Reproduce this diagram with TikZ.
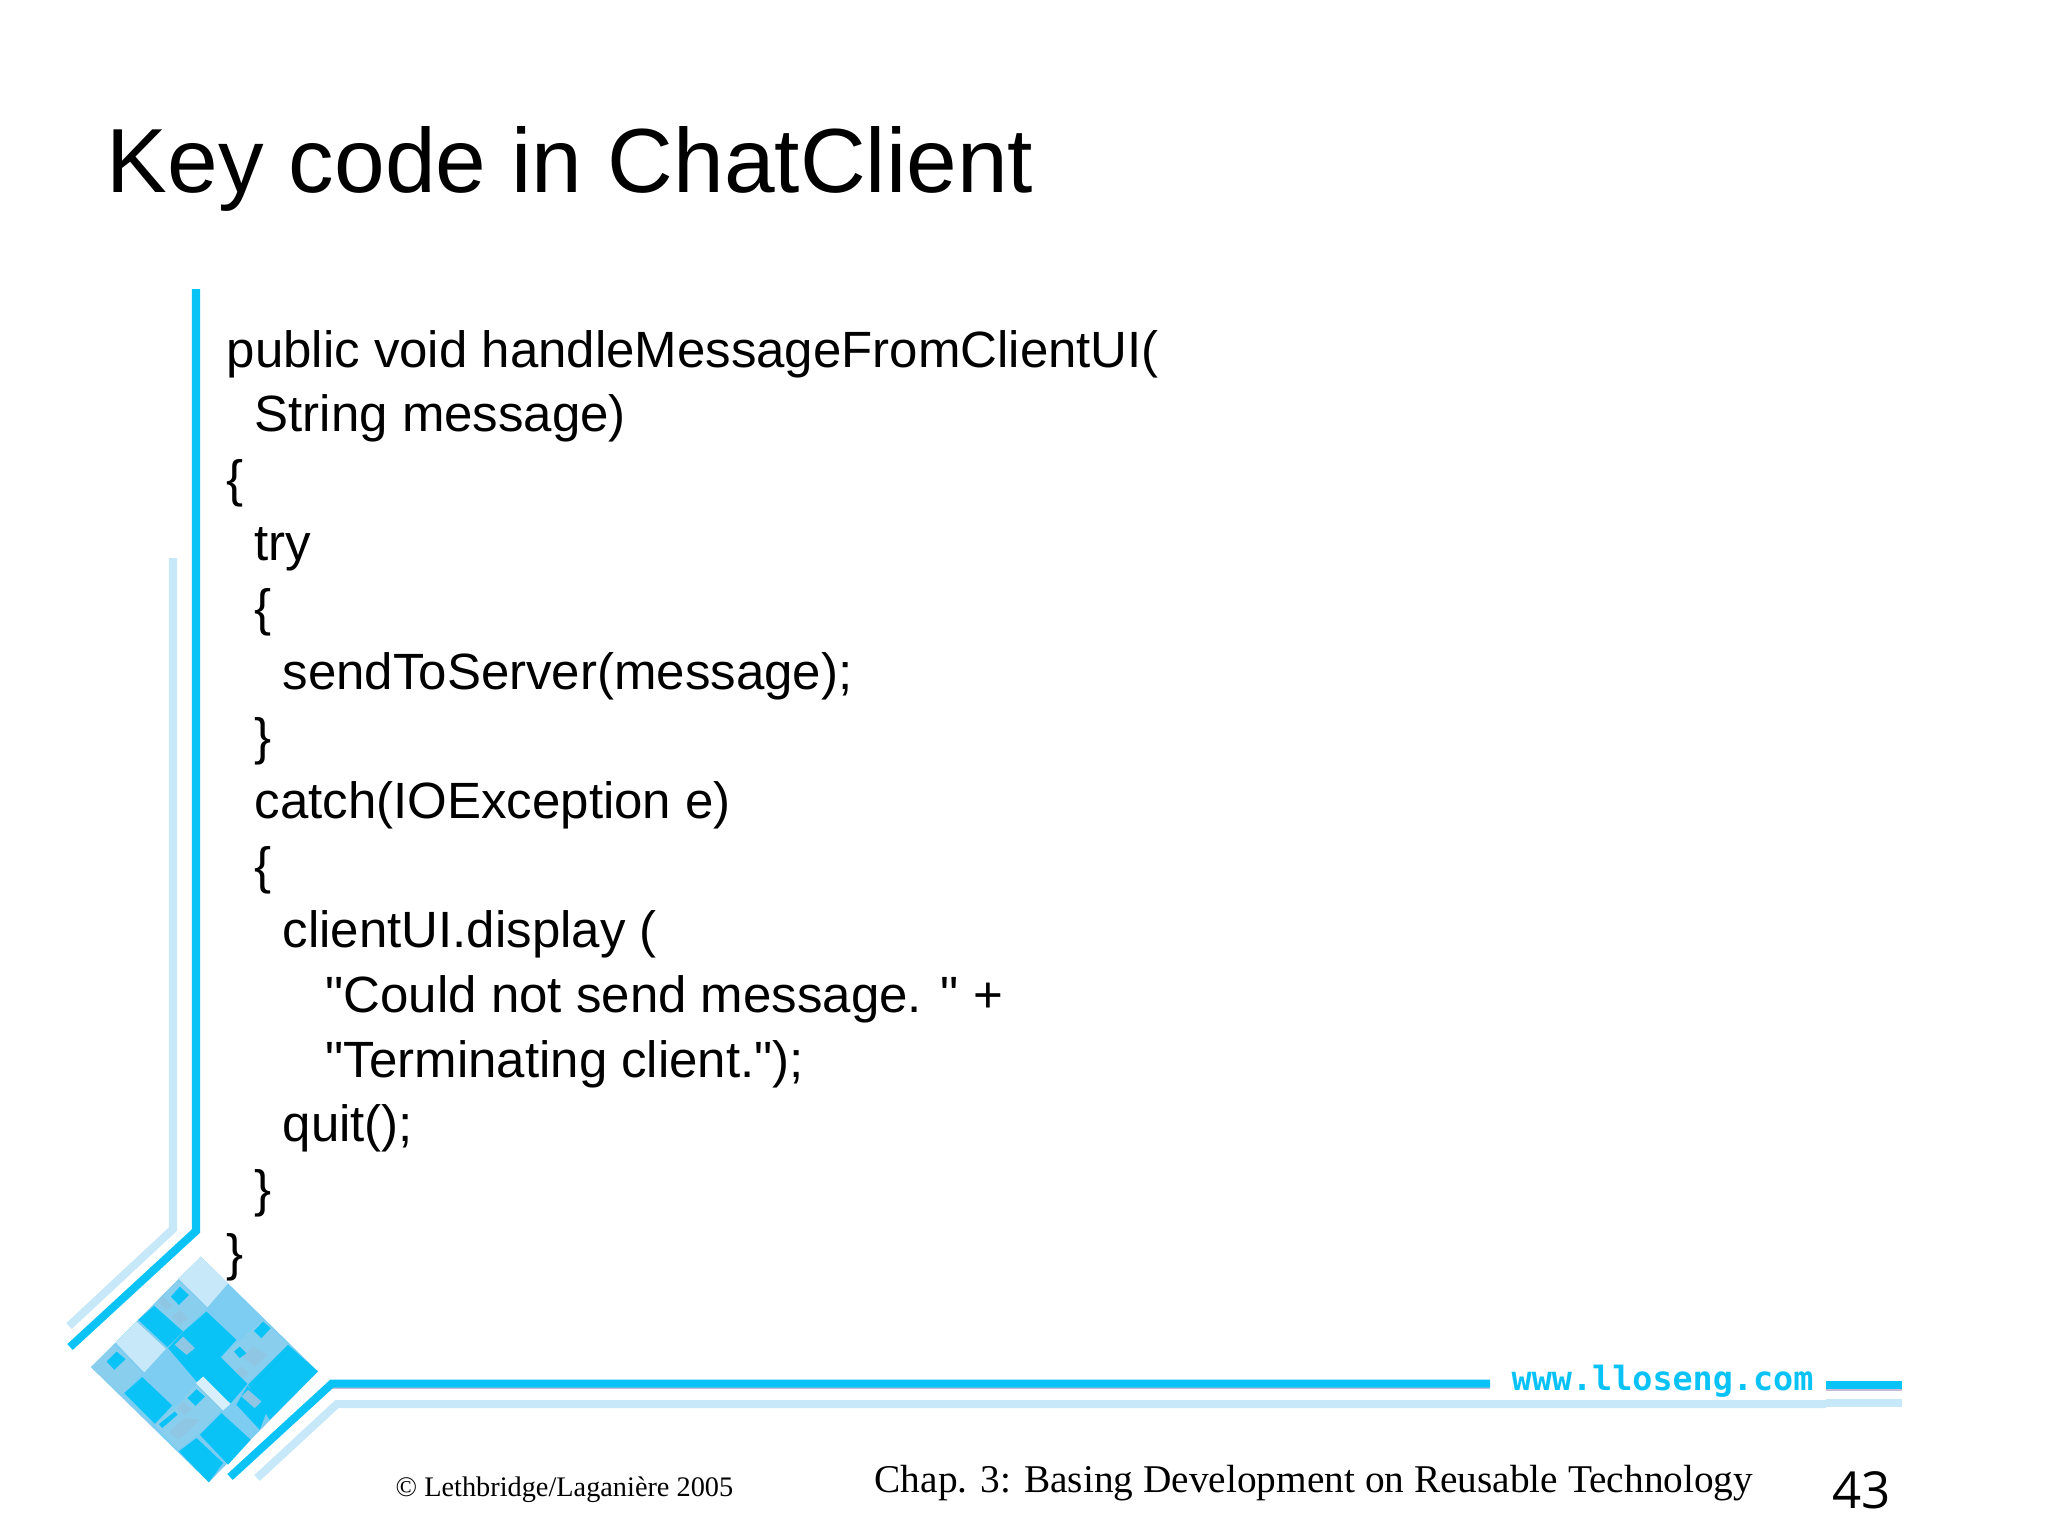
\documentclass[tikz,border=0pt]{standalone}
\usepackage{fontspec}
\setmainfont{Liberation Sans}
\newfontfamily\codeface{Liberation Sans}
\newfontfamily\serifface{Liberation Serif}
\newfontfamily\pagenumface{Open Sans}
\newfontfamily\webface{DejaVu Sans Mono}
\definecolor{ruleblue}{HTML}{0AC3F6}
\definecolor{rulepale}{HTML}{C6E8F9}
\definecolor{rulemauve}{HTML}{C9B9D6}
\definecolor{tilemid}{HTML}{7CCDF1}
\definecolor{tilegray}{HTML}{8ACEEE}
\definecolor{tilespot}{HTML}{8FC6E4}
\definecolor{tilewhite}{HTML}{D6EFFB}
\tikzset{
	bluerule/.style={draw=ruleblue,line width=0.08cm,miter limit=4},
	palerule/.style={draw=rulepale,line width=0.08cm},
	codeline/.style={anchor=base west,inner sep=0pt,font=\codeface\fontsize{14.5}{14.5}\selectfont},
	footline/.style={anchor=base west,inner sep=0pt,text=black}
}
\begin{document}
\begin{tikzpicture}[x=0.01cm,y=-0.01cm]
		\useasboundingbox[fill=white] (0,0) rectangle (2048,1536);

		% Frame rules
		\draw[palerule] (173,558) -- (173,1229) -- (69,1326);
		\draw[palerule] (257,1478) -- (337,1404) -- (1826,1404);
		\draw[palerule] (1826,1403) -- (1902,1403);
		\draw[draw=rulemauve,line width=0.02cm] (331,1388) -- (1490,1388);
		\draw[draw=rulemauve,line width=0.02cm] (1826,1390) -- (1902,1390);
		\draw[bluerule] (196,289) -- (196,1231) -- (70,1347);
		\draw[bluerule] (230,1477) -- (332,1383.5) -- (1490,1383.5);
		\draw[bluerule] (1826,1385) -- (1902,1385);

		% Logo tiles
		\begin{scope}[shift={(85,1250)},x=0.00333cm,y=-0.00333cm]
			\fill[tilemid] (348,20) -- (700,365) -- (372,698) -- (18,352) -- cycle;
			\fill[rulepale] (348,20) -- (430,100) -- (368,172) -- (280,85) -- cycle;
			\fill[tilegray] (280,92) -- (365,175) -- (295,245) -- (208,165) -- cycle;
			\fill[tilespot] (235,140) -- (262,165) -- (245,180) -- (218,155) -- cycle;
			\fill[tilespot] (285,180) -- (310,205) -- (285,225) -- (260,200) -- cycle;
			\fill[ruleblue] (208,168) -- (295,245) -- (248,292) -- (160,210) -- cycle;
			\fill[ruleblue] (285,110) -- (312,135) -- (282,165) -- (258,140) -- cycle;
			\fill[ruleblue] (365,185) -- (455,270) -- (408,322) -- (488,402) -- (438,460) -- (335,395) -- (250,295) -- (296,245) -- cycle;
			\fill[tilespot] (295,260) -- (330,295) -- (305,315) -- (270,285) -- cycle;
			\fill[tilegray] (535,210) -- (610,283) -- (488,400) -- (410,322) -- cycle;
			\fill[tilespot] (505,290) -- (548,315) -- (510,350) -- (475,320) -- cycle;
			\fill[tilespot] (470,350) -- (492,368) -- (475,385) -- (452,365) -- cycle;
			\fill[ruleblue] (535,215) -- (558,235) -- (530,265) -- (508,243) -- cycle;
			\fill[ruleblue] (465,290) -- (485,310) -- (465,325) -- (448,305) -- cycle;
			\fill[ruleblue] (610,285) -- (700,365) -- (555,510) -- (490,405) -- cycle;
			\fill[rulepale] (155,215) -- (243,297) -- (178,368) -- (92,278) -- cycle;
			\fill[tilegray] (88,285) -- (172,370) -- (110,435) -- (18,352) -- cycle;
			\fill[ruleblue] (95,305) -- (122,328) -- (88,360) -- (65,335) -- cycle;
			\fill[ruleblue] (172,382) -- (262,467) -- (210,522) -- (118,430) -- cycle;
			\fill[tilegray] (333,405) -- (410,480) -- (345,550) -- (280,600) -- (210,525) -- (275,470) -- cycle;
			\fill[tilespot] (270,530) -- (300,505) -- (345,510) -- (310,545) -- (280,570) -- (255,548) -- cycle;
			\fill[tilespot] (295,455) -- (320,478) -- (300,495) -- (275,475) -- cycle;
			\fill[ruleblue] (335,418) -- (360,440) -- (332,468) -- (308,445) -- cycle;
			\fill[ruleblue] (270,485) -- (278,495) -- (232,535) -- (222,523) -- cycle;
			\fill[tilewhite] (355,380) -- (437,462) -- (415,482) -- (333,400) -- cycle;
			\fill[ruleblue] (488,408) -- (550,475) -- (525,540) -- (455,465) -- cycle;
			\fill[tilespot] (490,420) -- (530,455) -- (510,475) -- (470,440) -- cycle;
			\fill[ruleblue] (410,490) -- (498,570) -- (430,645) -- (345,555) -- cycle;
			\fill[ruleblue] (335,565) -- (415,640) -- (372,698) -- (282,605) -- cycle;
		\end{scope}

		% Title
		\node[anchor=base west,inner sep=0pt,font=\fontsize{25.9}{25.9}\selectfont] (title) at (106,192.5) {Key code in ChatClient};

		% Code lines
		\foreach \xpos/\txt [count=\i from 0] in {
			226/{public void handleMessageFromClientUI(},
			254/{String message)},
			226/{\{},
			254/{try},
			254/{\{},
			282/{sendToServer(message);},
			254/{\}},
			254/{catch(IOException e)},
			254/{\{},
			282/{clientUI.display (},
			325/{"Could not send message. " +},
			325/{"Terminating client.");},
			282/{quit();},
			254/{\}},
			226/{\}}}
			\node[codeline] (line\i) at (\xpos,367+64.55*\i) {\txt};

		% Footer
		\node[anchor=base west,inner sep=0pt,text=ruleblue,font=\webface\bfseries\fontsize{9.5}{9.5}\selectfont] (web) at (1511,1390) {www.lloseng.com};
		\node[footline,font=\serifface\fontsize{8.05}{8.05}\selectfont] (copyright) at (395,1496) {© Lethbridge/Laganière 2005};
		\node[footline,font=\serifface\fontsize{11.18}{11.18}\selectfont] (chapter) at (874,1492) {Chap. 3: Basing Development on Reusable Technology};
		\node[footline,font=\pagenumface\fontsize{14.5}{14.5}\selectfont] (pagenum) at (1832,1508) {43};
	\end{tikzpicture}
\end{document}
